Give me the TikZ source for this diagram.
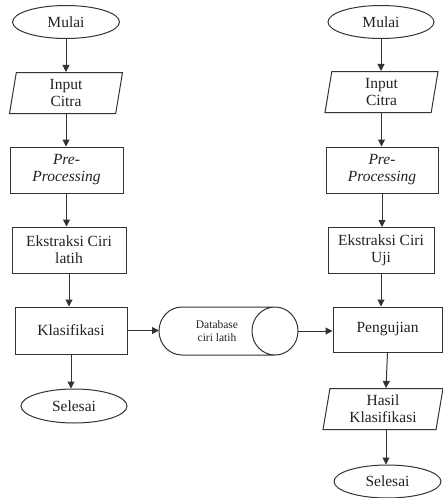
\documentclass[tikz,border=0pt]{standalone}
\usepackage{fontspec}
\setmainfont{Liberation Serif}
\usetikzlibrary{shapes.geometric,arrows.meta}
\definecolor{ln}{HTML}{333333}
\definecolor{tx}{HTML}{222222}
\begin{document}
\begin{tikzpicture}[x=1pt,y=-1pt,
  base/.style={draw=ln,line width=1pt,text=tx,font=\fontsize{15.5}{17}\selectfont,align=center,inner sep=0pt},
  term/.style={base,ellipse,minimum width=#1,minimum height=33},
  proc/.style={base,rectangle,minimum width=#1,minimum height=46},
  io/.style={base,trapezium,trapezium left angle=76,trapezium right angle=104,trapezium stretches body,minimum width=#1,minimum height=41},
  arr/.style={draw=ln,line width=1pt,-{Triangle[length=7pt,width=7pt]}}]
\useasboundingbox (0,0) rectangle (443,498);
% left column
\node[term=107] (m1) at (66,22) {Mulai};
\node[io=113] (i1) at (66,93) {Input\\Citra};
\node[proc=113] (p1) at (66.5,170) {\itshape Pre-\\\itshape Processing};
\node[proc=114] (e1) at (69,250) {Ekstraksi Ciri\\latih};
\node[proc=112,minimum height=47] (k1) at (71,330.5) {Klasifikasi};
\node[term=106,minimum height=34] (s1) at (74,406) {Selesai};
% right column
\node[term=106] (m2) at (381,22) {Mulai};
\node[io=113] (i2) at (381.5,92) {Input\\Citra};
\node[proc=112] (p2) at (382,170) {\itshape Pre-\\\itshape Processing};
\node[proc=106] (e2) at (381,250.5) {Ekstraksi Ciri\\Uji};
\node[proc=109,minimum height=45] (g2) at (387.5,329.5) {Pengujian};
\node[io=120] (h2) at (383,409) {Hasil\\Klasifikasi};
\node[term=107] (s2) at (387.5,481.5) {Selesai};
% database (horizontal cylinder)
\node[base,draw=none,font=\fontsize{11.5}{13}\selectfont] (db) at (217,331) {Database\\ciri latih};
\coordinate (dbL) at (159,331);
\coordinate (dbR) at (298,331);
\draw[draw=ln,line width=1pt] (182,307) -- (275,307)
  (182,355) -- (275,355)
  (182,307) arc[start angle=270,end angle=90,x radius=23,y radius=24]
  (275,331) ellipse[x radius=23,y radius=24];
% connectors
\draw[arr] (m1.south) -- (m1.south |- i1.north);
\draw[arr] (i1.south) -- (i1.south |- p1.north);
\draw[arr] (p1.south) -- (p1.south |- e1.north);
\draw[arr] (e1.south) -- (e1.south |- k1.north);
\draw[arr] (k1.south) -- (k1.south |- s1.north);
\draw[arr] (k1.east) -- (k1.east -| dbL);
\draw[arr] (dbR) -- (dbR -| g2.west);
\draw[arr] (m2.south) -- (m2.south |- i2.north);
\draw[arr] (i2.south) -- (i2.south |- p2.north);
\draw[arr] (p2.south) -- (p2.south |- e2.north);
\draw[arr] (e2.south) -- (e2.south |- g2.north);
\draw[arr] (g2.south) -- ([xshift=-1.5pt]g2.south |- h2.north);
\draw[arr] ([xshift=-1.5pt]g2.south |- h2.south) -- ([xshift=-1.5pt]g2.south |- s2.north);
\end{tikzpicture}
\end{document}
